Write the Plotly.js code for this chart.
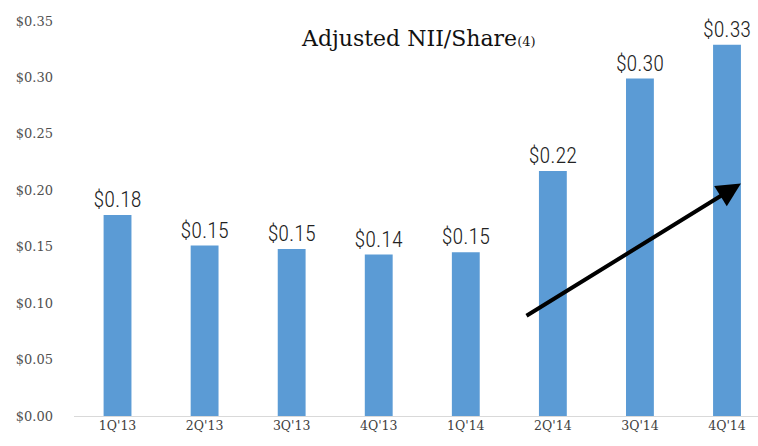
<!DOCTYPE html>
<html><head><meta charset="utf-8">
<script src="https://cdn.plot.ly/plotly-3.0.1.min.js"></script>
<style>body{margin:0;background:#fff}#c{width:758px;height:446px}</style>
</head><body><div id="c"></div>
<script>
const categories = ["1Q'13","2Q'13","3Q'13","4Q'13","1Q'14","2Q'14","3Q'14","4Q'14"];
const values = [0.178, 0.151, 0.148, 0.143, 0.145, 0.217, 0.299, 0.329];
const labels = ["$0.18","$0.15","$0.15","$0.14","$0.15","$0.22","$0.30","$0.33"];
const arrowFrom = [4.68, 0.088];
const arrowTo = [7.16, 0.206];
const titleText = "Adjusted NII/Share";
const titleNote = "(4)";

const trace = {
  type: 'bar', x: categories.map((c,i)=>i), y: values,
  text: labels, textposition: 'outside', cliponaxis: false, constraintext: 'none',
  textfont: {family: 'Liberation Sans Narrow, Roboto Condensed, sans-serif', size: 22, weight: 300, color: '#222'},
  marker: {color: '#5B9BD5'}, width: 0.32, hoverinfo: 'none'
};
const layout = {
  width: 758, height: 446,
  margin: {l: 74, r: 0, t: 21, b: 30},
  paper_bgcolor: '#fff', plot_bgcolor: '#fff',
  showlegend: false,
  xaxis: {range: [-0.5, 7.356], tickvals: categories.map((c,i)=>i), ticktext: categories,
    showgrid: false, zeroline: false, showline: false, ticks: '',
    tickfont: {family: 'DejaVu Serif, serif', size: 12.5, color: '#404040'}},
  yaxis: {range: [0, 0.35], dtick: 0.05, tickformat: '$.2f', showgrid: false,
    zeroline: true, zerolinecolor: '#d9d9d9', zerolinewidth: 1, showline: false, ticks: '',
    ticklabelstandoff: 20,
    tickfont: {family: 'DejaVu Serif, serif', size: 13, color: '#505050'}},
  annotations: [
    {x: arrowTo[0], y: arrowTo[1], ax: arrowFrom[0], ay: arrowFrom[1], xref: 'x', yref: 'y', axref: 'x', ayref: 'y',
     showarrow: true, arrowhead: 2, arrowsize: 1.2, arrowwidth: 4, arrowcolor: '#000', text: ''},
    {xref: 'paper', yref: 'paper', x: 0.504, y: 0.955, xanchor: 'center', yanchor: 'middle', showarrow: false,
     text: titleText + "<span style='font-size:13px'>" + titleNote + "</span>",
     font: {family: 'DejaVu Serif, serif', size: 22, color: '#111'}}
  ]
};
Plotly.newPlot('c', [trace], layout, {staticPlot: true});
</script></body></html>
